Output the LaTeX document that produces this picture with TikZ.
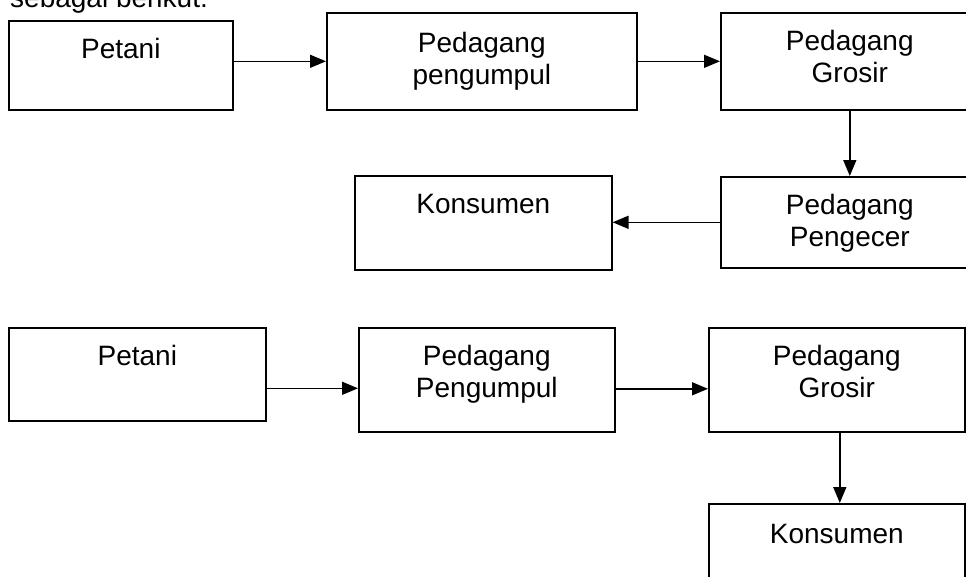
\documentclass[tikz,border=0pt]{standalone}
\usepackage{fontspec}
\setmainfont{Liberation Sans}
\usetikzlibrary{arrows.meta}
\tikzset{
  box/.style={draw=black, line width=1.6pt, rectangle, inner sep=0pt, anchor=north west},
  lbl/.style={anchor=base, inner sep=0pt, font=\fontsize{28}{32}\selectfont},
  arr/.style={draw=black, line width=1.5pt, -{Triangle[length=16pt,width=13pt]}}
}
\newcommand{\twol}[2]{\begin{tabular}[t]{@{}c@{}}#1\\#2\end{tabular}}
\begin{document}
\begin{tikzpicture}[x=1pt,y=-1pt]
\useasboundingbox (0,0) rectangle (966,576);
\clip (0,0) rectangle (966,576);
\fill[white] (0,0) rectangle (966,576);
% heading (cut off at top)
\node[anchor=base west, inner sep=0pt, font=\fontsize{28}{32}\selectfont] (head) at (10,7) {sebagai berikut:};
% top flow
\node[box, minimum width=224pt, minimum height=89pt] (p1) at (8,20) {};
\node[box, minimum width=310pt, minimum height=97pt] (g1) at (326,12) {};
\node[box, minimum width=258pt, minimum height=97pt] (r1) at (720,12) {};
\node[box, minimum width=258pt, minimum height=91pt] (e1) at (720,176) {};
\node[box, minimum width=257pt, minimum height=94pt] (k1) at (354,175) {};
\node[lbl] (tp1) at ([yshift=-38pt]p1.north) {Petani};
\node[lbl] (tg1) at ([yshift=-40pt]g1.north) {\twol{Pedagang}{pengumpul}};
\node[lbl] (tr1) at ([yshift=-38pt]r1.north) {\twol{Pedagang}{Grosir}};
\node[lbl] (te1) at ([yshift=-38pt]e1.north) {\twol{Pedagang}{Pengecer}};
\node[lbl] (tk1) at ([yshift=-38pt]k1.north) {Konsumen};
\draw[arr] (p1.east |- g1.west) -- (g1.west);
\draw[arr] (g1.east) -- (r1.west |- g1.east);
\draw[arr] (r1.south) -- (e1.north);
\draw[arr] (e1.west) -- (k1.east |- e1.west);
% bottom flow
\node[box, minimum width=257pt, minimum height=93pt] (p2) at (8,327) {};
\node[box, minimum width=256pt, minimum height=104pt] (g2) at (358,327) {};
\node[box, minimum width=256pt, minimum height=104pt] (r2) at (708,327) {};
\node[box, minimum width=256pt, minimum height=100pt] (k2) at (708,503) {};
\node[lbl] (tp2) at ([yshift=-38pt]p2.north) {Petani};
\node[lbl] (tg2) at ([yshift=-38pt]g2.north) {\twol{Pedagang}{Pengumpul}};
\node[lbl] (tr2) at ([yshift=-38pt]r2.north) {\twol{Pedagang}{Grosir}};
\node[lbl] (tk2) at ([yshift=-40pt]k2.north) {Konsumen};
\draw[arr] ([yshift=-14pt]p2.east) coordinate (a1) -- (a1 -| g2.west);
\draw[arr] ([yshift=-9pt]g2.east) coordinate (a2) -- (a2 -| r2.west);
\draw[arr] ([xshift=3pt]r2.south) coordinate (a3) -- (a3 |- k2.north);
\end{tikzpicture}
\end{document}
